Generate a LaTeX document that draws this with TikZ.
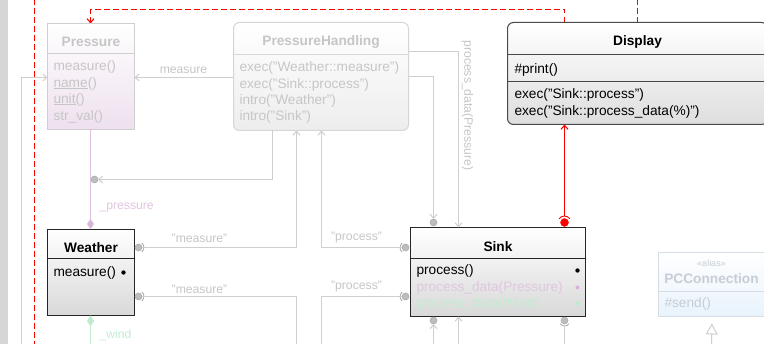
\documentclass[tikz,border=0pt]{standalone}
\usepackage{fontspec}
\setmainfont{Liberation Sans}
\usetikzlibrary{arrows.meta,calc}
\definecolor{fadetxt}{HTML}{C6C6C6}
\definecolor{fadeline}{HTML}{CFCFCF}
\definecolor{ballc}{HTML}{BDBDBD}
\definecolor{ballbd}{HTML}{A9A9A9}
\definecolor{purpl}{HTML}{DCC2DC}
\definecolor{purpd}{HTML}{D7B2D7}
\definecolor{purptxt}{HTML}{E0C6E0}
\definecolor{grnl}{HTML}{C2ECD1}
\definecolor{grnd}{HTML}{BCEACB}
\definecolor{grntxt}{HTML}{C4ECD3}
\definecolor{pinkfill}{HTML}{EEE0EE}
\definecolor{bluefill}{HTML}{E8F3FC}
\definecolor{bluebord}{HTML}{D6DDE5}
\definecolor{bluetxt}{HTML}{C7CDD4}
\definecolor{redc}{rgb}{1,0,0}
\definecolor{sidebar}{HTML}{D6D6D6}
\definecolor{phbord}{HTML}{D6D6D6}
\definecolor{darkbord}{HTML}{4A4A4A}
\tikzset{
  every node/.style={inner sep=0pt, outer sep=0pt},
  ttl/.style={font=\fontsize{13.7}{15}\selectfont\bfseries},
  mth/.style={font=\fontsize{13.7}{15}\selectfont, anchor=west},
  lbl/.style={font=\fontsize{12.2}{14}\selectfont, text=fadetxt},
  conn/.style={draw=fadeline, line width=1pt},
  tip/.style={-{Straight Barb[length=4pt,width=7pt]}},
  ball/.style={circle, fill=ballc, draw=ballbd, line width=0.5pt, minimum size=7pt},
  reddash/.style={color=redc, draw=redc, line width=1.1pt, dash pattern=on 5.5pt off 3.5pt},
  redline/.style={color=redc, draw=redc, line width=1.1pt},
}
\begin{document}
\begin{tikzpicture}[x=1pt,y=-1pt]
\useasboundingbox (0.5,0.5) rectangle (764.5,344.5);
\fill[white] (0.5,0.5) rectangle (764.5,344.5);
\fill[sidebar] (0.5,0.5) rectangle (8.5,344.5);

% ---------- coordinates ----------
\coordinate (rl1) at (35,0);
\coordinate (rl2) at (35,345);
\coordinate (rtop) at (638,0);
\coordinate (rbend) at (565,10);
\coordinate (rbendl) at (91,10);
\coordinate (dispn) at (638,23);
\coordinate (dispnr) at (565,23);
\coordinate (presn) at (91,24);
\coordinate (disps) at (565,125);
\coordinate (lgray) at (22,345);
\coordinate (wbot) at (297,345);
\coordinate (sbot) at (322,345);
\coordinate (sb1) at (434,345);
\coordinate (sb2) at (459,345);
\coordinate (sb3) at (565,345);
\coordinate (pcb) at (712,345);
\coordinate (gbot) at (91,345);

% ---------- red connectors first ----------
\draw[reddash] (rl1) -- (rl2);
\draw[reddash] (rtop) -- (dispn);
\draw[reddash, -{Straight Barb[length=4pt,width=7pt]}] (dispnr) -- (rbend) -- (rbendl) -- (presn);
\node[circle, fill=redc, draw=redc, minimum size=8pt] (rb) at (565,223) {};
\draw[redline, -{Straight Barb[length=4pt,width=7pt]}] ([yshift=6.5pt]rb.center) -- (disps);
\draw[redline, line width=0.9pt] ([shift={(35:6.5pt)}]rb.center) arc[start angle=35, end angle=145, radius=6.5pt];

\begin{scope}
\clip (0.5,0.5) rectangle (764.5,344.5);
% ---------- class boxes ----------
\node[draw=fadeline, line width=1pt, shade, top color=white, bottom color=pinkfill,
      minimum width=87pt, minimum height=106pt] (pressure) at (91.5,77) {};
\draw[fadeline, line width=1pt] (pressure.west |- 0,54) -- (pressure.east |- 0,54);
\node[ttl, text=fadetxt] (pressuret) at (91.5,42) {Pressure};
\node[mth, text=fadetxt] (pm1) at (54,67) {measure()};
\node[mth, text=fadetxt] (pm2) at (54,84) {\underline{name}()};
\node[mth, text=fadetxt] (pm3) at (54,100) {\underline{unit}()};
\node[mth, text=fadetxt] (pm4) at (54,117) {str\_val()};

\node[draw=phbord, line width=1pt, rounded corners=6pt, shade, top color=white, bottom color=black!7,
      minimum width=175pt, minimum height=108pt] (ph) at (321.5,77) {};
\draw[phbord, line width=1pt] (ph.west |- 0,55) -- (ph.east |- 0,55);
\node[ttl, text=fadetxt] (pht) at (321.5,42) {PressureHandling};
\node[mth, text=fadetxt] (phm1) at (240,68) {exec("Weather::measure")};
\node[mth, text=fadetxt] (phm2) at (240,85) {exec("Sink::process")};
\node[mth, text=fadetxt] (phm3) at (240,101) {intro("Weather")};
\node[mth, text=fadetxt] (phm4) at (240,117) {intro("Sink")};

\node[draw=darkbord, line width=1pt, rounded corners=6pt, shade, top color=white, bottom color=black!13,
      minimum width=260pt, minimum height=102pt] (display) at (638,74) {};
\draw[darkbord, line width=1pt] (display.west |- 0,55) -- (display.east |- 0,55);
\draw[darkbord, line width=1pt] (display.west |- 0,82) -- (display.east |- 0,82);
\node[ttl] (dispt) at (638,42) {Display};
\node[mth] (dm1) at (515,70) {\#print()};
\node[mth] (dm2) at (515,95) {exec("Sink::process")};
\node[mth] (dm3) at (515,112) {exec("Sink::process\_data(\%)")};

\node[draw=black!85, line width=1pt, shade, top color=white, bottom color=black!15,
      minimum width=87pt, minimum height=86pt] (weather) at (91.5,273) {};
\draw[black!85, line width=1pt] (weather.west |- 0,259) -- (weather.east |- 0,259);
\node[ttl] (weathert) at (91.5,248) {Weather};
\node[mth] (wm1) at (54,273) {measure()};
\fill (124,273) circle[radius=2.2pt];

\node[draw=black!85, line width=1pt, shade, top color=white, bottom color=black!15,
      minimum width=175pt, minimum height=89pt] (sink) at (498.5,272.5) {};
\draw[black!85, line width=1pt] (sink.west |- 0,259) -- (sink.east |- 0,259);
\node[ttl] (sinkt) at (498.5,247) {Sink};
\node[mth] (sm1) at (417,271) {process()};
\node[mth, text=purptxt] (sm2) at (417,288) {process\_data(Pressure)};
\node[mth, text=grntxt] (sm3) at (417,304) {process\_data(Wind)};
\fill (578,271) circle[radius=2.2pt];
\fill[purpd] (578,288) circle[radius=2pt];
\fill[grnd] (578,304) circle[radius=2pt];

\node[draw=bluebord, line width=1pt, shade, top color=white, bottom color=bluefill,
      minimum width=107pt, minimum height=64pt] (pcc) at (712.5,285) {};
\draw[bluebord, line width=1pt] (pcc.west |- 0,292) -- (pcc.east |- 0,292);
\node[font=\fontsize{9}{10}\selectfont, text=bluetxt] (pccs) at (712,264) {«alias»};
\node[ttl, text=bluetxt] (pcct) at (712,279) {PCConnection};
\node[mth, text=bluetxt] (pccm) at (665,304) {\#send()};
\end{scope}

% ---------- balls ----------
\node[ball] (bp) at (95,180) {};
\node[ball] (bw1) at (139,248) {};
\node[ball] (bw2) at (139,297) {};
\node[ball] (bs1) at (406,248) {};
\node[ball] (bs2) at (406,297) {};
\node[ball] (bst) at (434,223) {};
\node[ball] (bsb1) at (434,321) {};
\node[ball] (bsb2) at (565,321) {};

% sockets
\draw[ballbd, line width=0.8pt] ([shift={(-55:5.5pt)}]bw1.center) arc[start angle=-55, end angle=55, radius=5.5pt];
\draw[ballbd, line width=0.8pt] ([shift={(-55:5.5pt)}]bw2.center) arc[start angle=-55, end angle=55, radius=5.5pt];
\draw[ballbd, line width=0.8pt] ([shift={(125:5.5pt)}]bs1.center) arc[start angle=125, end angle=235, radius=5.5pt];
\draw[ballbd, line width=0.8pt] ([shift={(125:5.5pt)}]bs2.center) arc[start angle=125, end angle=235, radius=5.5pt];
\draw[ballbd, line width=0.8pt] ([shift={(215:5.5pt)}]bsb2.center) arc[start angle=215, end angle=325, radius=5.5pt];

% ---------- gray connectors ----------
\draw[conn, tip] (ph.west |- 0,78) -- (pressure.east |- 0,78);
\node[lbl] (lmeas) at (184,71) {measure};
\draw[conn, tip] (lgray) |- (pressure.west |- 0,78);

\draw[draw=purpl, line width=1pt, -{Diamond[fill=purpd, length=11pt, width=7pt]}] (pressure.south -| gbot) -- (weather.north -| gbot);
\node[lbl, text=purptxt, anchor=west] (lpress) at (100,208) {\_pressure};
\draw[draw=grnl, line width=1pt, {Diamond[fill=grnd, length=11pt, width=7pt]}-] (weather.south -| gbot) -- (gbot);
\node[lbl, text=grntxt, anchor=west] (lwind) at (100,336) {\_wind};

\draw[conn, tip] (ph.south -| 273,0) |- (bp.east);

\draw[conn, tip] (bw1.east) -| (ph.south -| 297,0);
\draw[conn] (bw2.east) -| (wbot);
\node[lbl] (lm1) at (200,239) {"measure"};
\node[lbl] (lm2) at (200,290) {"measure"};

\draw[conn, tip] (bs1.west) -| (ph.south -| 322,0);
\draw[conn] (bs2.west) -| (sbot);
\node[lbl] (lp1) at (357,238) {"process"};
\node[lbl] (lp2) at (357,287) {"process"};

\draw[conn, tip] (ph.east |- 0,77) -| (bst.north);
\draw[conn, tip] (ph.east |- 0,52) -| (sink.north -| 459,0);
\node[lbl, rotate=-90] (lpd) at (468,106) {process\_data(Pressure)};

\draw[conn, tip] (sb1) -- (bsb1.south);
\draw[conn, tip] (sb2) -- (sink.south -| 459,0);
\draw[conn] (sb3) -- ([yshift=-5.5pt]bsb2.center);

\draw[conn, -{Triangle[open, fill=white, length=11pt, width=12pt]}, shorten >=7pt] (pcb) -- (pcc.south);
\end{tikzpicture}
\end{document}
